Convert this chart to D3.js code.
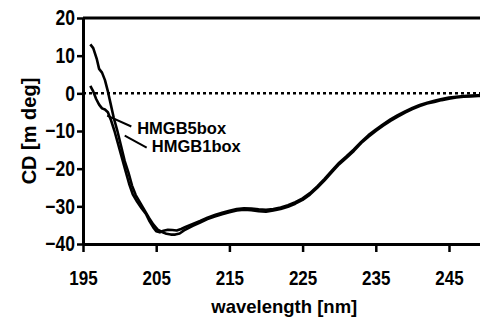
<!DOCTYPE html>
<html>
<head>
<meta charset="utf-8">
<script src="https://cdn.jsdelivr.net/npm/d3@7"></script>
<style>
  html, body { margin: 0; padding: 0; background: #fff; overflow: hidden; }
  svg { display: block; }
</style>
</head>
<body>
<div id="chart"></div>
<script>
// tick values
const wavelengthTicks = [195, 205, 215, 225, 235, 245]
const cdTicks = [20, 10, 0, -10, -20, -30, -40]

// HMGB1box spectrum (nm, mdeg)
const hmgb1Wavelength = [196.0, 196.4, 196.9, 197.2, 197.6, 198.0, 198.4, 198.8, 199.2, 199.7, 200.2, 200.7, 201.2, 201.7, 202.2, 202.8, 203.4, 204.0, 204.6, 205.2, 205.8, 206.4, 207.0, 207.6, 208.2, 208.8, 209.4, 210, 211, 212, 213, 214, 215, 216, 217, 218, 219, 220, 221, 222, 223, 224, 225, 226, 227, 228, 229, 230, 231, 232, 233, 234, 235, 236, 237, 238, 239, 240, 241, 242, 243, 244, 245, 246, 247, 248, 249, 250]
const hmgb1Cd = [13.0, 12.0, 9.0, 6.5, 5.5, 3.5, 0.5, -3.0, -6.5, -10.0, -14.0, -18.0, -21.0, -24.5, -27.0, -29.0, -31.0, -33.0, -34.8, -36.2, -36.8, -37.3, -37.5, -37.5, -37.2, -36.4, -35.8, -35.2, -34.3, -33.4, -32.7, -32.1, -31.6, -31.1, -30.9, -31.0, -31.3, -31.4, -31.1, -30.7, -30.1, -29.3, -28.3, -26.9, -25.1, -23.1, -20.9, -18.8, -17.1, -15.3, -13.2, -11.5, -10.0, -8.6, -7.3, -6.2, -5.1, -4.2, -3.4, -2.7, -2.3, -1.8, -1.4, -1.1, -0.9, -0.8, -0.7, -0.6]

// HMGB5box spectrum (nm, mdeg)
const hmgb5Wavelength = [196.0, 196.4, 196.8, 197.2, 197.6, 198.0, 198.4, 198.8, 199.3, 199.8, 200.3, 200.8, 201.3, 201.8, 202.4, 203.0, 203.6, 204.1, 204.6, 205.0, 205.5, 206.0, 206.6, 207.2, 207.8, 208.4, 209.0, 210, 211, 212, 213, 214, 215, 216, 217, 218, 219, 220, 221, 222, 223, 224, 225, 226, 227, 228, 229, 230, 231, 232, 233, 234, 235, 236, 237, 238, 239, 240, 241, 242, 243, 244, 245, 246, 247, 248, 249, 250]
const hmgb5Cd = [2.0, 0.5, -1.5, -3.0, -4.0, -4.3, -5.0, -7.0, -10.0, -13.5, -17.0, -20.5, -24.0, -26.8, -28.8, -30.5, -32.0, -34.0, -35.6, -36.6, -36.9, -36.5, -36.2, -36.3, -36.4, -36.0, -35.5, -34.7, -33.9, -33.0, -32.3, -31.7, -31.2, -30.7, -30.5, -30.6, -30.8, -30.9, -30.7, -30.3, -29.7, -28.9, -27.9, -26.5, -24.7, -22.7, -20.5, -18.4, -16.7, -14.9, -12.9, -11.1, -9.6, -8.2, -6.9, -5.8, -4.8, -3.9, -3.1, -2.5, -2.0, -1.5, -1.1, -0.9, -0.7, -0.6, -0.5, -0.4]

// labels with leader lines, in data units: [line start nm, mdeg, line end nm, mdeg, text nm, text mdeg]
const labelNames = ['HMGB5box', 'HMGB1box']
const labelAnchors = [
    [198.3, -5.9, 201.6, -8.8, 202.4, -10.7],
    [200.7, -11.2, 203.7, -14.4, 204.4, -15.7]
]

const width = 480, height = 322
const font = '"Liberation Sans", Arial, sans-serif'

const svg = d3.select('#chart').append('svg')
    .attr('width', width)
    .attr('height', height)
    .attr('font-family', font)
    .attr('font-weight', 'bold')

const x = d3.scaleLinear()
    .domain([195, 250])
    .range([83, 485.6])

const y = d3.scaleLinear()
    .domain([-40, 20])
    .range([244, 18])

// top border of the frame
svg.append('line')
    .attr('x1', x(195)).attr('x2', x(250))
    .attr('y1', y(20)).attr('y2', y(20))
    .attr('stroke', '#000')
    .attr('stroke-width', 3)

// zero line, dotted
svg.append('line')
    .attr('x1', x(195)).attr('x2', x(250))
    .attr('y1', y(0)).attr('y2', y(0))
    .attr('stroke', '#000')
    .attr('stroke-width', 2.5)
    .attr('stroke-dasharray', '3,3')

const stretch = 1.22

svg.append('g')
    .attr('transform', `translate(0,${y(-40)})`)
    .call(d3.axisBottom(x).tickValues(wavelengthTicks).tickSize(8).tickSizeOuter(0).tickFormat(d3.format('d')))
    .call(g => g.select('.domain').attr('stroke-width', 3))
    .call(g => g.selectAll('.tick line').attr('stroke-width', 2.5))
    .call(g => g.selectAll('.tick text')
        .attr('font-size', 17)
        .attr('font-family', font)
        .attr('font-weight', 'bold')
        .attr('fill', '#000')
        .attr('dy', 0)
        .attr('y', 41 / stretch)
        .attr('transform', `scale(1,${stretch})`))

svg.append('g')
    .attr('transform', `translate(${x(195)},0)`)
    .call(d3.axisLeft(y).tickValues(cdTicks).tickSize(6).tickPadding(2).tickSizeOuter(0))
    .call(g => g.select('.domain').attr('stroke-width', 3))
    .call(g => g.selectAll('.tick line').attr('stroke-width', 2.5))
    .call(g => g.selectAll('.tick text')
        .attr('font-size', 17.5)
        .attr('font-family', font)
        .attr('font-weight', 'bold')
        .attr('fill', '#000')
        .attr('transform', `scale(1,${stretch})`))

const line = d3.line()
    .x(d => x(d[0]))
    .y(d => y(d[1]))
    .curve(d3.curveLinear)

const series = [
    d3.zip(hmgb1Wavelength, hmgb1Cd),
    d3.zip(hmgb5Wavelength, hmgb5Cd)
]

svg.append('g')
    .attr('class', 'spectra')
  .selectAll('path')
  .data(series)
  .join('path')
    .attr('d', line)
    .attr('fill', 'none')
    .attr('stroke', '#000')
    .attr('stroke-width', 2.6)
    .attr('stroke-linejoin', 'round')

// labels and leader lines
const labels = svg.append('g').attr('class', 'labels')

labels.selectAll('line')
  .data(labelAnchors)
  .join('line')
    .attr('x1', d => x(d[0]))
    .attr('y1', d => y(d[1]))
    .attr('x2', d => x(d[2]))
    .attr('y2', d => y(d[3]))
    .attr('stroke', '#000')
    .attr('stroke-width', 2)

labels.selectAll('text')
  .data(labelAnchors)
  .join('text')
    .attr('x', d => x(d[4]))
    .attr('y', d => y(d[5]))
    .attr('font-size', 16.5)
    .text((d, i) => labelNames[i])

// axis titles
svg.append('text')
    .attr('x', (x(195) + x(250)) / 2)
    .attr('y', 313)
    .attr('text-anchor', 'middle')
    .attr('font-size', 18.5)
    .text('wavelength [nm]')

svg.append('text')
    .attr('transform', `translate(36,${(y(20) + y(-40)) / 2}) rotate(-90)`)
    .attr('text-anchor', 'middle')
    .attr('font-size', 20)
    .text('CD [m deg]')
</script>
</body>
</html>
